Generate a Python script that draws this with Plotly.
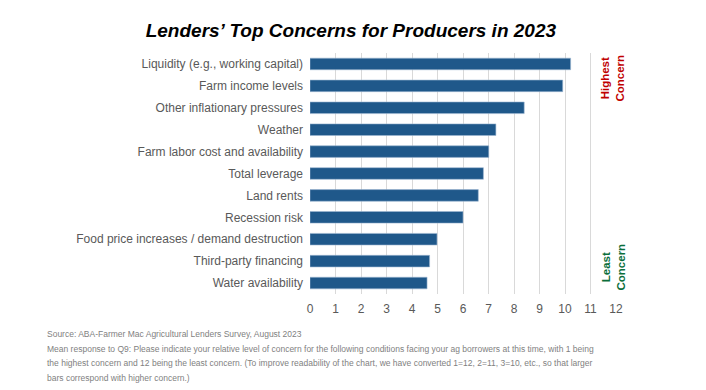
import plotly.graph_objects as go

categories = [
    "Liquidity (e.g., working capital)",
    "Farm income levels",
    "Other inflationary pressures",
    "Weather",
    "Farm labor cost and availability",
    "Total leverage",
    "Land rents",
    "Recession risk",
    "Food price increases / demand destruction",
    "Third-party financing",
    "Water availability",
]
values = [10.22, 9.91, 8.40, 7.29, 7.01, 6.80, 6.60, 6.00, 4.98, 4.69, 4.59]
x_ticks = list(range(0, 13))

title_text = "<b><i>Lenders’ Top Concerns for Producers in 2023</i></b>"
footnote_lines = [
    "Source: ABA-Farmer Mac Agricultural Lenders Survey, August 2023",
    "Mean response to Q9: Please indicate your relative level of concern for the following conditions facing your ag borrowers at this time, with 1 being",
    "the highest concern and 12 being the least concern. (To improve readability of the chart, we have converted 1=12, 2=11, 3=10, etc., so that larger",
    "bars correspond with higher concern.)",
]

fig = go.Figure(
    go.Bar(
        x=values,
        y=categories,
        orientation="h",
        marker=dict(color="#1F588A", line=dict(color="#9DB7D2", width=0.6)),
        width=0.53,
    )
)

fig.update_layout(
    width=706,
    height=390,
    margin=dict(l=310, r=90, t=53, b=96),
    paper_bgcolor="white",
    plot_bgcolor="white",
    showlegend=False,
    font=dict(family="Liberation Sans, Arial, sans-serif", color="#595959", size=11),
    title=dict(
        text=title_text,
        x=0.497,
        xanchor="center",
        y=0.922,
        yanchor="middle",
        font=dict(family="Liberation Sans, Arial, sans-serif", size=19, color="#000000"),
    ),
)

fig.update_xaxes(
    range=[0, 12],
    tickvals=x_ticks,
    ticktext=[str(t) for t in x_ticks],
    showgrid=True,
    gridcolor="#D9D9D9",
    gridwidth=1,
    zeroline=False,
    showline=False,
    ticks="",
    tickfont=dict(size=12, color="#595959"),
    ticklabelstandoff=6,
)
fig.update_yaxes(
    categoryorder="array",
    categoryarray=categories[::-1],
    showgrid=False,
    zeroline=False,
    showline=False,
    ticks="",
    tickfont=dict(size=12, color="#595959"),
    ticklabelstandoff=6,
)

# side annotations
fig.add_annotation(
    xref="paper", yref="paper", x=1.0, y=0.896,
    xshift=12, text="<b>Highest<br>Concern</b>", textangle=-90,
    showarrow=False, align="center", yanchor="middle",
    font=dict(size=11.5, color="#C00000", family="Liberation Sans, Arial, sans-serif"),
)
fig.add_annotation(
    xref="paper", yref="paper", x=1.0, y=0.112,
    xshift=13, text="<b>Least<br>Concern</b>", textangle=-90,
    showarrow=False, align="center", yanchor="middle",
    font=dict(size=11.5, color="#0B6E3B", family="Liberation Sans, Arial, sans-serif"),
)

# footnote
for i, line in enumerate(footnote_lines):
    fig.add_annotation(
        xref="paper", yref="paper",
        x=0, xshift=-265, y=0, yshift=-(40 + 14.5 * i),
        xanchor="left", yanchor="middle",
        text=line, showarrow=False, align="left",
        font=dict(size=8.5, color="#7F7F7F",
                  family="Liberation Sans Narrow, Arial Narrow, Liberation Sans, sans-serif"),
    )

fig.write_html(
    "out.html",
    config={"displayModeBar": False},
    post_script="document.body.style.margin='0';",
)
